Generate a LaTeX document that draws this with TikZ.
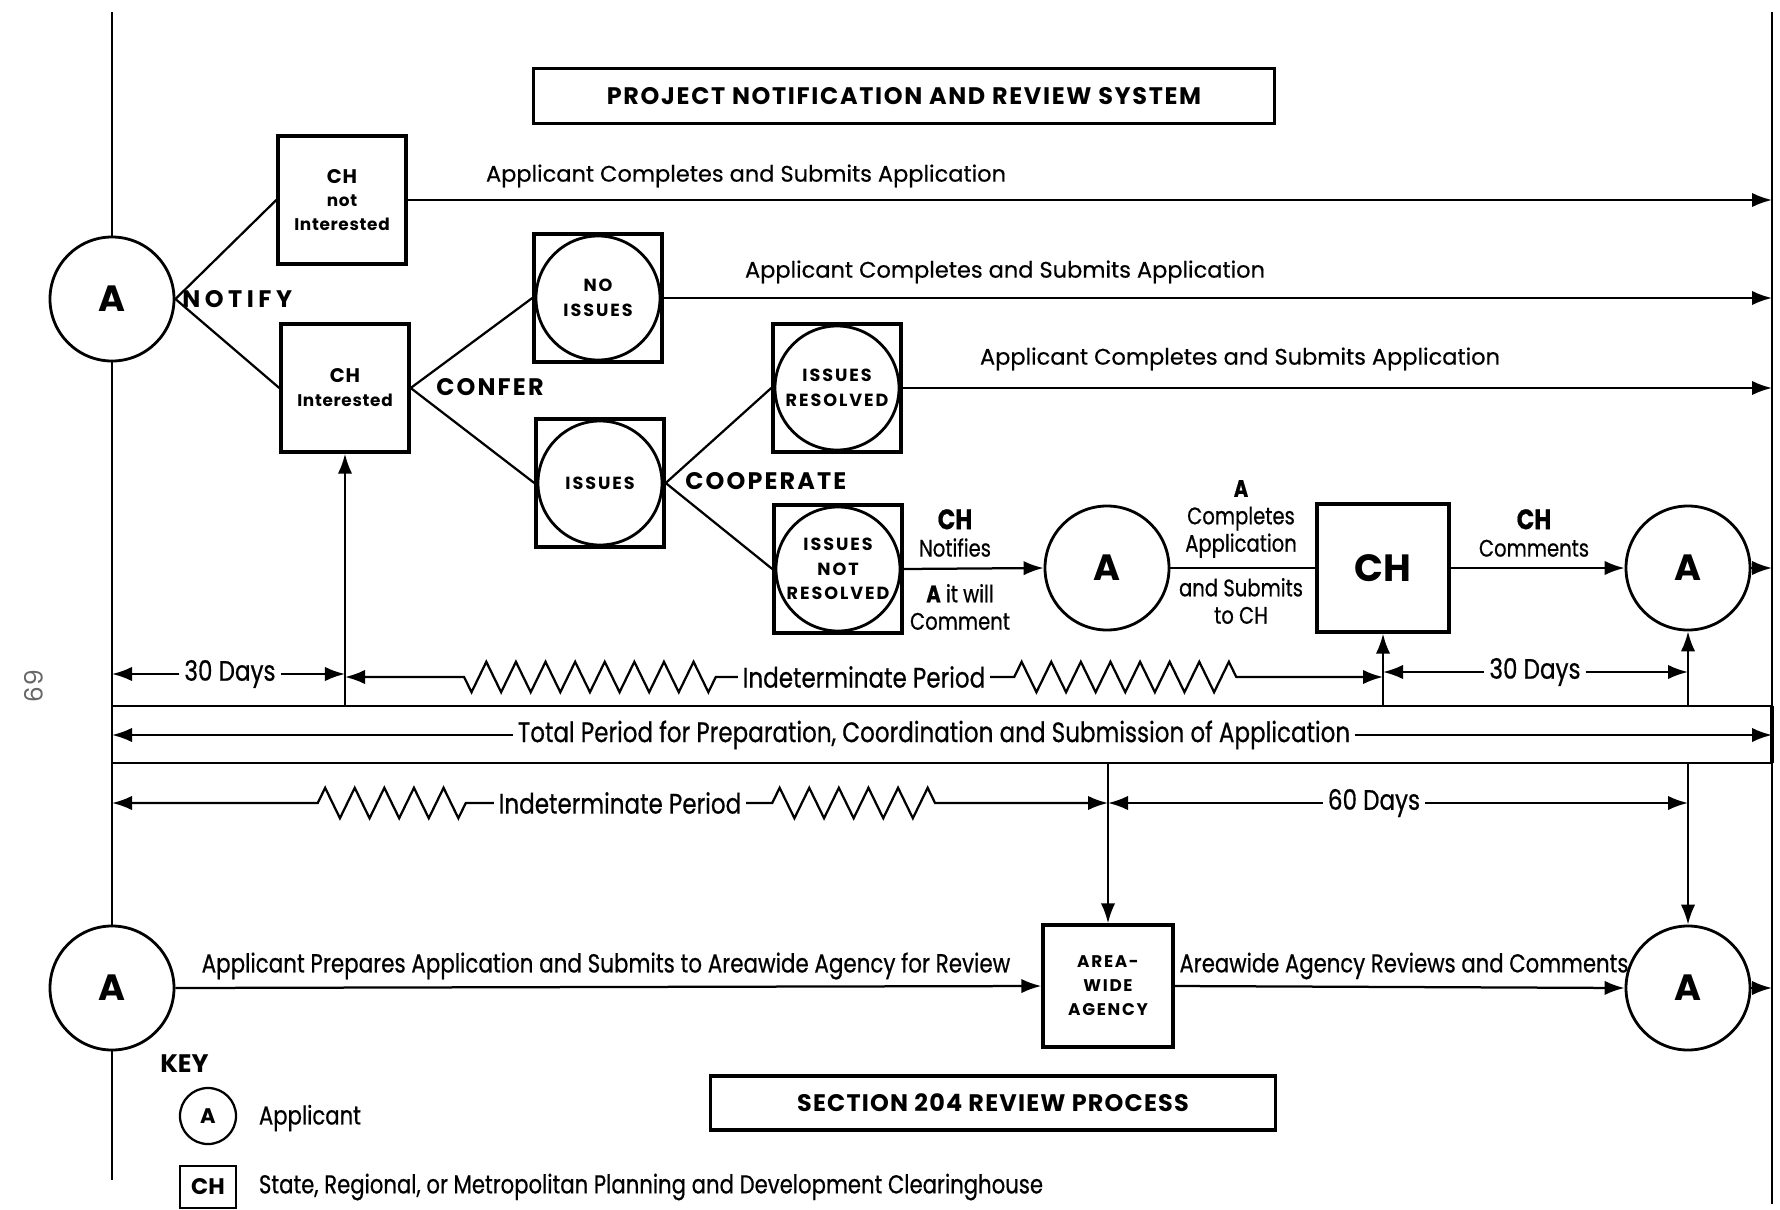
\documentclass[tikz,border=0pt]{standalone}
\usepackage{fontspec}
\setmainfont{Poppins}
\newfontfamily\condfont[FakeStretch=0.82,FakeBold=0.6]{Poppins}
\newfontfamily\medfont[FakeBold=0.5]{Poppins}
\usepackage{tikz}
\usetikzlibrary{arrows.meta,decorations.pathmorphing,positioning}

\tikzset{
  appl/.style={circle,draw,line width=2pt,minimum size=3.1cm,inner sep=0pt,fill=white,font=\fontsize{26}{26}\selectfont\bfseries},
  chbox/.style={rectangle,draw,line width=2.4pt,minimum width=3.2cm,minimum height=3.2cm,align=center,inner sep=1pt,font=\fontsize{12}{17}\selectfont\bfseries\addfontfeature{LetterSpace=4}},
  issue/.style={chbox,font=\fontsize{12.5}{17.5}\selectfont\bfseries\addfontfeature{LetterSpace=11},path picture={\draw[line width=2pt] (path picture bounding box.center) circle (1.55cm);}},
  arr/.style={-{Latex[length=5mm,width=3.6mm]},line width=1.6pt},
  link/.style={line width=1.6pt},
  wlbl/.style={font=\medfont\fontsize{16}{19}\selectfont},
  lbl/.style={font=\condfont\fontsize{17}{19.5}\selectfont,align=center},
  tlbl/.style={font=\condfont\fontsize{20}{22}\selectfont},
  caps/.style={font=\fontsize{17}{18}\selectfont\bfseries\addfontfeature{LetterSpace=9},inner sep=0pt},
  zz/.style={decoration={zigzag,segment length=7.4mm,amplitude=3.8mm}},
  titlebox/.style={draw,line width=2.2pt,font=\fontsize{17}{18}\selectfont\bfseries\addfontfeature{LetterSpace=7}}
}

\begin{document}
\begin{tikzpicture}[x=0.025cm,y=-0.025cm]
\useasboundingbox (0,0) rectangle (1780,1209);
% frame of the chart
\coordinate (Ltop) at (112,12);
\coordinate (Lbot) at (112,1180);
\coordinate (Rtop) at (1772,12);
\coordinate (Rbot) at (1772,1204);
\coordinate (boxtop) at (0,706);
\coordinate (boxbot) at (0,763);
\node[rotate=-90,font=\fontsize{18}{18}\selectfont,text=black!60] (pgno) at (34,686) {69};
\node[titlebox,minimum width=18.5cm,minimum height=1.38cm] (title) at (904,96) {PROJECT NOTIFICATION AND REVIEW SYSTEM};
% -> notify -> confer -> cooperate
\node[appl] (A1) at (112,299) {A};
\node[chbox] (CHn) at (342,200) {{\fontsize{14}{17}\selectfont CH}\\not\\Interested};
\node[chbox] (CHi) at (345,388) {{\fontsize{14}{17}\selectfont CH}\\Interested};
\node[caps,anchor=west,font=\fontsize{17}{18}\selectfont\bfseries\addfontfeature{LetterSpace=19}] (notify) at (182,299) {NOTIFY};
\node[issue] (NI) at (598,298) {NO\\ISSUES};
\node[issue] (IS) at (600,483) {ISSUES};
\node[caps,anchor=west] (confer) at (436,387) {CONFER};
\node[issue] (IR) at (837,388) {ISSUES\\RESOLVED};
\node[issue] (INR) at (838,569) {ISSUES\\NOT\\RESOLVED};
\node[caps,anchor=west] (coop) at (685,481) {COOPERATE};
\draw[link] (A1.east) -- (CHn.west);
\draw[link] (A1.east) -- (CHi.west);
\draw[link] (CHi.east) -- (NI.west);
\draw[link] (CHi.east) -- (IS.west);
\draw[link] (IS.east) -- (IR.west);
\draw[link] (IS.east) -- (INR.west);
\draw[arr] (CHn.east) -- (CHn.east -| Rtop);
\node[wlbl] (sub1) at (746,176) {Applicant Completes and Submits Application};
\draw[arr] (NI.east) -- (NI.east -| Rtop);
\node[wlbl] (sub2) at (1005,272) {Applicant Completes and Submits Application};
\draw[arr] (IR.east) -- (IR.east -| Rtop);
\node[wlbl] (sub3) at (1240,359) {Applicant Completes and Submits Application};
% issues not resolved
\node[appl] (A2) at (1107,568) {A};
\node[chbox,minimum width=3.3cm,font=\fontsize{27}{28}\selectfont\bfseries] (CHm) at (1383,568) {CH};
\node[appl] (A3) at (1688,568) {A};
\draw[arr] (INR.east) -- (A2.west);
\node[lbl] (chnote) at (955,533) {{\fontsize{20}{20}\selectfont\bfseries CH}\\Notifies};
\node[lbl] (willc) at (960,607) {{\bfseries A} it will\\Comment};
\draw[link] (A2.east) -- (CHm.west);
\node[lbl] (acomp) at (1241,519) {{\bfseries A}\\Completes\\Application};
\node[lbl] (asub) at (1241,601) {and Submits\\to CH};
\draw[arr] (CHm.east) -- (A3.west);
\node[lbl] (chcom) at (1534,533) {{\fontsize{20}{20}\selectfont\bfseries CH}\\Comments};
\draw[arr] (A3.east) -- (A3.east -| Rtop);
% time scale
\node[tlbl] (d30a) at (230,674) {30 Days};
\draw[arr] (d30a.west) -- (d30a.west -| Ltop);
\draw[arr] (d30a.east) -- (d30a.east -| CHi.south);
\draw[arr] (CHi.south |- boxtop) -- (CHi.south);
\node[tlbl] (ind1) at (864,677) {Indeterminate Period};
\draw[arr] (ind1.west) -- ++(-22,0) decorate[zz]{-- ++(-261,0)} -- (ind1.west -| CHi.south);
\draw[arr] (ind1.east) -- ++(24,0) decorate[zz]{-- ++(233,0)} -- (ind1.east -| CHm.south);
\draw[arr] (CHm.south |- boxtop) -- (CHm.south);
\node[tlbl] (d30b) at (1535,672) {30 Days};
\draw[arr] (d30b.west) -- (d30b.west -| CHm.south);
\draw[arr] (d30b.east) -- (d30b.east -| A3.south);
\draw[arr] (A3.south |- boxtop) -- (A3.south);
\draw[line width=2pt] (Ltop |- boxtop) rectangle (Rtop |- boxbot);
\draw[line width=3.5pt] (Rtop |- boxtop) -- (Rtop |- boxbot);
\node[tlbl] (total) at (934,735) {Total Period for Preparation, Coordination and Submission of Application};
\draw[arr] (total.west) -- (total.west -| Ltop);
\draw[arr] (total.east) -- (total.east -| Rtop);
% -> section 204 review
\node[appl] (A4) at (112,988) {A};
\node[chbox,minimum width=3.25cm,minimum height=3.05cm,font=\fontsize{12}{17}\selectfont\bfseries\addfontfeature{LetterSpace=10}] (AW) at (1108,986) {AREA-\\WIDE\\AGENCY};
\node[appl] (A5) at (1688,988) {A};
\node[tlbl] (ind2) at (620,803) {Indeterminate Period};
\draw[arr] (ind2.west) -- ++(-28,0) decorate[zz]{-- ++(-149,0)} -- (ind2.west -| Ltop);
\draw[arr] (ind2.east) -- ++(26,0) decorate[zz]{-- ++(170,0)} -- (ind2.east -| AW.north);
\node[tlbl] (d60) at (1374,803) {60 Days};
\draw[arr] (d60.west) -- (d60.west -| AW.north);
\draw[arr] (d60.east) -- (d60.east -| A5.north);
\draw[arr] (AW.north |- boxbot) -- (AW.north);
\draw[arr] (A5.north |- boxbot) -- (A5.north);
\draw[arr] (A4.east) -- (AW.west);
\node[lbl,font=\condfont\fontsize{18.6}{20}\selectfont] (prep) at (606,966) {Applicant Prepares Application and Submits to Areawide Agency for Review};
\draw[arr] (AW.east) -- (A5.west);
\node[lbl,font=\condfont\fontsize{18.4}{20}\selectfont] (revw) at (1404,966) {Areawide Agency Reviews and Comments};
\draw[arr] (A5.east) -- (A5.east -| Rtop);
\node[titlebox,minimum width=14.125cm,minimum height=1.35cm,font=\fontsize{17}{18}\selectfont\bfseries\addfontfeature{LetterSpace=5}] (sect) at (993,1103) {SECTION 204 REVIEW PROCESS};
% side lines
\draw[link] (Ltop) -- (A1.north);
\draw[link] (A1.south) -- (A4.north);
\draw[link] (A4.south) -- (Lbot);
\draw[link] (Rtop) -- (Rbot);
% key
\node[font=\fontsize{18}{20}\selectfont\bfseries,anchor=west,inner sep=0pt] (key) at (160,1064) {KEY};
\node[appl,minimum size=1.4cm,line width=1.6pt,font=\fontsize{15}{16}\selectfont\bfseries] (keyA) at (208,1116) {A};
\node[lbl,anchor=west,font=\condfont\fontsize{18.4}{20}\selectfont] (keyAt) at (254,1118) {Applicant};
\node[draw,line width=1.8pt,minimum width=1.4cm,minimum height=1.05cm,inner sep=1pt,font=\fontsize{16}{16}\selectfont\bfseries] (keyCH) at (208,1187) {CH};
\node[lbl,anchor=west,font=\condfont\fontsize{18.4}{20}\selectfont] (keyCHt) at (254,1187) {State, Regional, or Metropolitan Planning and Development Clearinghouse};
\end{tikzpicture}
\end{document}
